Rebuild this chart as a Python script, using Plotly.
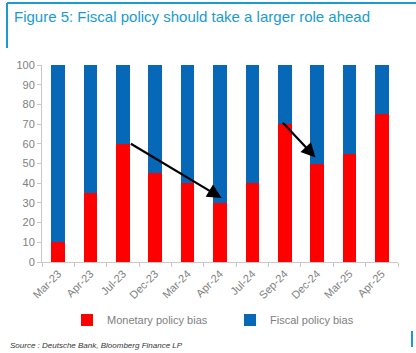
import plotly.graph_objects as go

categories = ["Mar-23", "Apr-23", "Jul-23", "Dec-23", "Mar-24", "Apr-24",
              "Jul-24", "Sep-24", "Dec-24", "Mar-25", "Apr-25"]
monetary = [10, 35, 60, 45, 40, 30, 40, 70, 50, 55, 75]
fiscal = [100 - m for m in monetary]

W, H = 416, 353
L, R, T, B = 42, 18, 65, 91
pw, ph = W - L - R, H - T - B

def px(x):
    return (x - L) / pw

def py(y):
    return (H - B - y) / ph

teal = "#1a9bd0"
gray = "#808080"

fig = go.Figure()
fig.add_trace(go.Bar(x=categories, y=monetary, name="Monetary policy bias",
                     marker=dict(color="#ff0000", line=dict(width=0)), width=0.42,
                     legend="legend"))
fig.add_trace(go.Bar(x=categories, y=fiscal, name="Fiscal policy bias",
                     marker=dict(color="#0868b8", line=dict(width=0)), width=0.42,
                     legend="legend2"))

leg_common = dict(orientation="h", yanchor="middle", xanchor="left",
                  font=dict(size=11, color=gray), bgcolor="rgba(0,0,0,0)",
                  itemwidth=30)

fig.update_layout(
    barmode="stack",
    width=W, height=H,
    margin=dict(l=L, r=R, t=T, b=B),
    plot_bgcolor="white", paper_bgcolor="white",
    font=dict(family="Liberation Sans, Arial, sans-serif", color=gray, size=11),
    title=dict(text="Figure 5: Fiscal policy should take a larger role ahead",
               x=14 / W, y=1 - 17 / H, xref="container", yref="container",
               xanchor="left", yanchor="middle",
               font=dict(size=15, color=teal, family="Liberation Sans, Arial, sans-serif")),
    legend=dict(x=px(67), y=py(320), **leg_common),
    legend2=dict(x=px(230), y=py(320), **leg_common),
    showlegend=True,
)

fig.update_xaxes(showline=True, linecolor="#c8c8c8", linewidth=1, ticks="outside",
                 tickson="boundaries", ticklen=4, tickcolor="#c8c8c8",
                 tickangle=-45, tickfont=dict(size=11, color=gray), showgrid=False)
fig.update_yaxes(range=[0, 100], dtick=10, showline=True, linecolor="#c8c8c8",
                 linewidth=1, ticks="outside", ticklen=4, tickcolor="#c8c8c8",
                 tickfont=dict(size=11, color=gray), showgrid=False, zeroline=False)

# arrows
arrows = [((2.2, 60.5), (5.05, 32.5)), ((6.9, 71.5), (7.95, 53))]
for (x0, y0), (x1, y1) in arrows:
    fig.add_annotation(x=x1, y=y1, ax=x0, ay=y0, xref="x", yref="y", axref="x", ayref="y",
                       showarrow=True, arrowhead=2, arrowsize=1.3, arrowwidth=2.2,
                       arrowcolor="black", text="")

# frame lines
fig.add_shape(type="line", xref="paper", yref="paper", x0=px(7), x1=px(416),
              y0=py(3), y1=py(3), line=dict(color=teal, width=2))
fig.add_shape(type="line", xref="paper", yref="paper", x0=px(7), x1=px(7),
              y0=py(3), y1=py(48), line=dict(color=teal, width=2))
fig.add_shape(type="line", xref="paper", yref="paper", x0=px(412), x1=px(412),
              y0=py(331), y1=py(347), line=dict(color=teal, width=2))

fig.add_annotation(text="<i>Source : Deutsche Bank, Bloomberg Finance LP</i>",
                   xref="paper", yref="paper", x=px(8), y=py(345), xanchor="left",
                   yanchor="middle", showarrow=False,
                   font=dict(size=8, color="#333333"))

fig.write_html("out.html")
